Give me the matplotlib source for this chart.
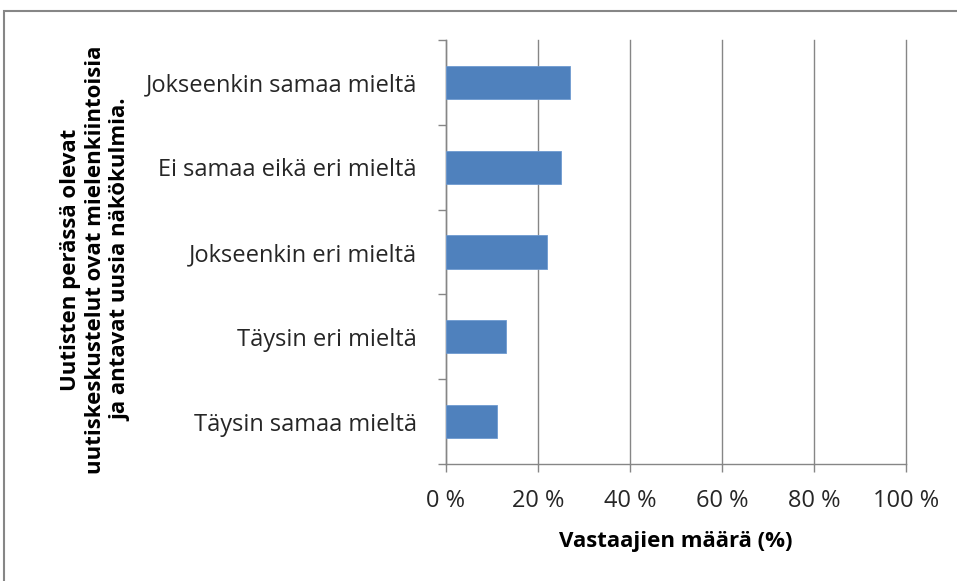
import matplotlib.pyplot as plt
import numpy as np
from matplotlib.patches import Rectangle

# data (bottom to top)
categories = ["Täysin samaa mieltä", "Täysin eri mieltä", "Jokseenkin eri mieltä",
              "Ei samaa eikä eri mieltä", "Jokseenkin samaa mieltä"]
values = [11, 13, 22, 25, 27]
xticks = [0, 20, 40, 60, 80, 100]
xticklabels = ["0 %", "20 %", "40 %", "60 %", "80 %", "100 %"]

plt.rcParams['font.family'] = ['Open Sans', 'DejaVu Sans']
grey = "#868686"

fig = plt.figure(figsize=(9.57, 5.81), dpi=100)
ax = fig.add_axes([0.466, 0.2014, 0.4807, 0.7297])

y = np.arange(len(categories))
ax.barh(y, values, height=0.39, color="#4F81BD", edgecolor="#6F9AD0", linewidth=0.6, zorder=3)

ax.set_xlim(0, 100)
ax.set_ylim(-0.5, len(categories) - 0.5)
ax.set_xticks(xticks)
ax.set_xticklabels(xticklabels, fontsize=17, color="#262626")
ax.set_yticks(y)
ax.set_yticklabels(categories, fontsize=17, color="#262626")
ax.set_yticks(np.arange(-0.5, len(categories)), minor=True)

ax.tick_params(axis="y", which="major", length=0, pad=21)
ax.tick_params(axis="y", which="minor", length=6, color=grey, width=1)
ax.tick_params(axis="x", length=6, color=grey, width=1, pad=12)

ax.grid(axis="x", color=grey, linewidth=1, zorder=0)
for gl in ax.get_xgridlines():
    gl.set_clip_on(False)
for s in ["top", "right"]:
    ax.spines[s].set_visible(False)
for s in ["left", "bottom"]:
    ax.spines[s].set_color(grey)
    ax.spines[s].set_linewidth(1)

ax.set_xlabel("Vastaajien määrä (%)", fontsize=16, fontweight="bold", labelpad=13)
fig.text(0.1, 0.553, "Uutisten perässä olevat\nuutiskeskustelut ovat mielenkiintoisia\nja antavat uusia näkökulmia.",
         rotation=90, ha="center", va="center", fontsize=16, fontweight="bold",
         multialignment="center", linespacing=1.25)

# outer chart border (right and bottom edges fall outside the image)
fig.patches.append(Rectangle((4 / 957, -10 / 581), 970 / 957, 580 / 581, transform=fig.transFigure,
                             fill=False, edgecolor=grey, linewidth=1.5))

plt.savefig("out.png", dpi=100)
plt.close()
